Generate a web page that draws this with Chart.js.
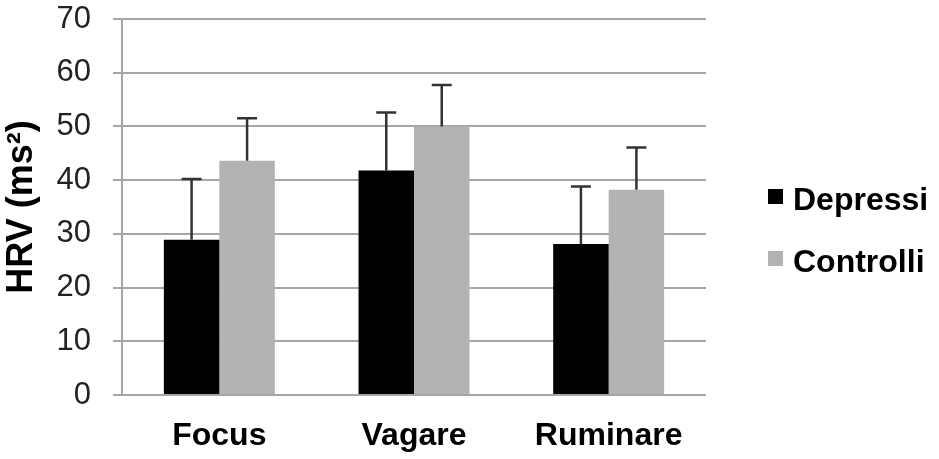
<!DOCTYPE html>
<html>
<head>
<meta charset="utf-8">
<script src="https://cdn.jsdelivr.net/npm/chart.js@4.4.0/dist/chart.umd.min.js"></script>
<style>
  html, body { margin: 0; padding: 0; background: #fff; }
  #wrap { width: 939px; height: 459px; position: relative; }
</style>
</head>
<body>
<div id="wrap"><canvas id="c" width="939" height="459"></canvas></div>
<script>
const categories = ["Focus", "Vagare", "Ruminare"];
const seriesNames = ["Depressi", "Controlli"];
const depressi = [28.9, 41.8, 28.1];
const controlli = [43.6, 50.0, 38.2];
const depressiErr = [40.2, 52.6, 38.8];   // top of error bar
const controlliErr = [51.5, 57.7, 46.1];  // top of error bar
const yTicks = [0, 10, 20, 30, 40, 50, 60, 70];
const yTitle = "HRV (ms²)";

const FONT = "'Liberation Sans', Arial, sans-serif";
const errTops = [depressiErr, controlliErr];

const errorBarPlugin = {
  id: 'errorBars',
  afterDatasetsDraw(chart) {
    const ctx = chart.ctx;
    const y = chart.scales.y;
    ctx.save();
    ctx.strokeStyle = '#333';
    ctx.lineWidth = 2.5;
    chart.data.datasets.forEach((ds, di) => {
      const meta = chart.getDatasetMeta(di);
      meta.data.forEach((bar, i) => {
        const x = bar.x;
        const yTop = y.getPixelForValue(errTops[di][i]);
        const yBase = y.getPixelForValue(ds.data[i]);
        ctx.beginPath();
        ctx.moveTo(x, yBase);
        ctx.lineTo(x, yTop);
        ctx.moveTo(x - 10, yTop);
        ctx.lineTo(x + 10, yTop);
        ctx.stroke();
      });
    });
    ctx.restore();
  }
};

const legendPlugin = {
  id: 'customLegend',
  afterDraw(chart) {
    const ctx = chart.ctx;
    ctx.save();
    ctx.font = "bold 32px " + FONT;
    ctx.textBaseline = 'alphabetic';
    ctx.textAlign = 'left';
    const baselines = [210, 272];
    chart.data.datasets.forEach((ds, di) => {
      const b = baselines[di];
      ctx.fillStyle = ds.backgroundColor;
      ctx.fillRect(768, b - 21, 15, 15);
      ctx.fillStyle = '#000';
      ctx.fillText(ds.label, 793, b);
    });
    ctx.restore();
  }
};

new Chart(document.getElementById('c'), {
  type: 'bar',
  data: {
    labels: categories,
    datasets: [
      { label: seriesNames[0], data: depressi, backgroundColor: '#000000', borderWidth: 0 },
      { label: seriesNames[1], data: controlli, backgroundColor: '#b3b3b3', borderWidth: 0 }
    ]
  },
  options: {
    responsive: false,
    animation: false,
    devicePixelRatio: 1,
    layout: { padding: { top: 19, right: 233, left: 0, bottom: 0 } },
    plugins: { legend: { display: false }, tooltip: { enabled: false } },
    datasets: { bar: { categoryPercentage: 0.57, barPercentage: 1.0 } },
    scales: {
      x: {
        grid: { display: false, drawTicks: false },
        border: { display: false },
        ticks: { color: '#000', font: { family: FONT, size: 32, weight: 'bold' }, padding: 22 },
        afterFit(scale) { scale.height = 64; scale.paddingLeft = 0; scale.paddingRight = 0; }
      },
      y: {
        min: 0, max: 70,
        afterBuildTicks(scale) { scale.ticks = yTicks.map(v => ({ value: v })); },
        grid: { color: '#a6a6a6', lineWidth: 2, tickLength: 9, drawTicks: true },
        border: { display: true, color: '#a6a6a6', width: 2 },
        ticks: { color: '#222', font: { family: FONT, size: 31 }, padding: 22 },
        title: { display: true, text: yTitle, color: '#000', font: { family: FONT, size: 36, weight: 'bold' }, padding: 0 },
        afterFit(scale) { scale.width = 122; scale.paddingTop = 0; scale.paddingBottom = 0; }
      }
    }
  },
  plugins: [errorBarPlugin, legendPlugin]
});
</script>
</body>
</html>
